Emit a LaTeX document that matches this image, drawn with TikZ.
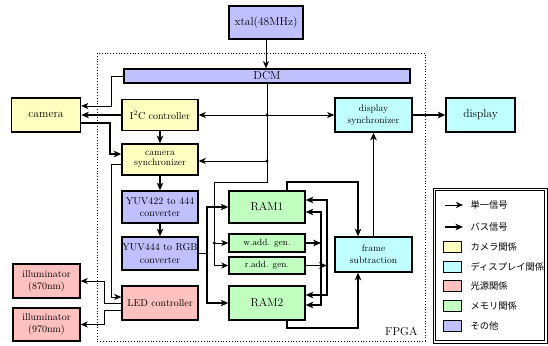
\documentclass[tikz,border=0pt]{standalone}
\usepackage{fontspec}
\newfontfamily\jafont{Noto Sans CJK JP}
\usetikzlibrary{arrows.meta, positioning, calc}
\definecolor{camcol}{HTML}{FFFFC0}
\definecolor{dispcol}{HTML}{C0FFFF}
\definecolor{litecol}{HTML}{FFC0C0}
\definecolor{memcol}{HTML}{C0FFC0}
\definecolor{othcol}{HTML}{C0C0FF}

\begin{document}
\begin{tikzpicture}[
  x=1pt, y=-1pt,
  blk/.style={draw, line width=1.5pt, inner sep=0pt, align=center,
    font=\fontsize{10}{12.3}\selectfont},
  big/.style={font=\fontsize{11.5}{13}\selectfont},
  sig/.style={-{Stealth[length=7pt, width=6pt, inset=2pt]}, line width=0.7pt},
  bus/.style={-{Stealth[length=7.5pt, width=6.5pt, inset=2pt]}, line width=1.6pt},
  dot/.style={circle, fill, inner sep=0pt, minimum size=3.2pt},
  swatch/.style={draw, line width=1pt, minimum width=18pt, minimum height=11pt, inner sep=0pt},
  jtext/.style={anchor=west, font=\jafont\fontsize{9.3}{10}\selectfont},
]
\useasboundingbox (0,0) rectangle (548,345);

% =================== FPGA frame ===================
\draw[dotted, line width=0.8pt] (97,53) rectangle (425,341);
\node[big, anchor=south east] (fpga) at (421,339) {FPGA};

% =================== blocks ===================
\node[blk, big, fill=othcol, minimum width=74pt, minimum height=33pt] (xtal) at (266,22.5) {xtal(48MHz)};
\node[blk, big, fill=othcol, minimum width=286pt, minimum height=14pt] (dcm) at (267,76) {DCM};

\node[blk, big, fill=camcol, minimum width=69pt, minimum height=34pt] (camera) at (46,115) {camera};
\node[blk, fill=camcol, minimum width=76pt, minimum height=31pt] (i2c) at (160,115) {I\textsuperscript{2}C controller};
\node[blk, fill=camcol, minimum width=76pt, minimum height=31pt,
  font=\fontsize{9.5}{10}\selectfont] (camsync) at (160,159.5) {camera\\synchronizer};

\node[blk, fill=dispcol, minimum width=77pt, minimum height=34pt,
  font=\fontsize{9.5}{12.3}\selectfont] (dispsync) at (373.5,115) {display\\synchronizer};
\node[blk, big, fill=dispcol, minimum width=69pt, minimum height=34pt] (display) at (480.5,115) {display};

\node[blk, fill=othcol, minimum width=76pt, minimum height=32pt] (yuv1) at (160,207) {YUV422 to 444\\converter};
\node[blk, fill=othcol, minimum width=76pt, minimum height=33pt] (yuv2) at (160,253.5) {YUV444 to RGB\\converter};
\node[blk, fill=litecol, minimum width=76pt, minimum height=34pt] (led) at (160,303) {LED controller};

\node[blk, fill=litecol, minimum width=67pt, minimum height=34pt] (ill1) at (46.5,281) {illuminator\\(870nm)};
\node[blk, fill=litecol, minimum width=67pt, minimum height=33pt] (ill2) at (46.5,324.5) {illuminator\\(970nm)};

\node[blk, big, fill=memcol, minimum width=76pt, minimum height=32pt] (ram1) at (267,207) {RAM1};
\node[blk, fill=memcol, minimum width=76pt, minimum height=18pt,
  font=\fontsize{9}{10}\selectfont] (wadd) at (267,243) {w.add. gen.};
\node[blk, fill=memcol, minimum width=76pt, minimum height=17pt,
  font=\fontsize{9}{10}\selectfont] (radd) at (267,265.5) {r.add. gen.};
\node[blk, big, fill=memcol, minimum width=76pt, minimum height=34pt] (ram2) at (267,303) {RAM2};

\node[blk, fill=dispcol, minimum width=77pt, minimum height=35pt,
  font=\fontsize{9.5}{12.3}\selectfont] (fsub) at (373.5,254.5) {frame\\subtraction};

% =================== clock lines ===================
\draw[sig] (xtal.south) -- (xtal.south |- dcm.north);
\draw[sig] (dcm.west) -- ++(-12,0) |- ([yshift=9pt]camera.east);

\coordinate (c1) at (dcm.south |- i2c.east);
\coordinate (c2) at ([yshift=-1.5pt]camsync.east);
\draw[sig] (c1) -- (i2c.east);
\draw[sig] (c1) -- (dispsync.west);
\draw[sig] (dcm.south |- c2) -- (c2);
\draw[sig] (dcm.south) -- ++(0,99) -| ([xshift=-14pt]radd.west) -- (radd.west);
\draw[sig] ([xshift=-14pt]wadd.west) -- (wadd.west);
\node[dot] (d1) at (c1) {};
\node[dot] (d2) at (dcm.south |- c2) {};
\node[dot] (d3) at ([xshift=-14pt]wadd.west) {};

% =================== camera side ===================
\draw[bus] (i2c.west) -- (camera.east);
\draw[bus] ([yshift=-8pt]camera.east) -- ++(29,0) |- ([yshift=5.5pt]camsync.west);
\draw[bus] (i2c) -- (camsync);
\draw[bus] (camsync) -- (yuv1);
\draw[bus] (yuv1) -- (yuv2);

% LED controller
\draw[sig] ([yshift=-5pt]camsync.west) -- ++(-10,0) |- ([yshift=6pt]led.west);
\draw[sig] (led.west) -- ++(-17,0) |- (ill1.east);
\draw[sig] ([yshift=-7pt]led.west) -- ++(-17,0) |- (ill2.east);

% =================== memory ===================
\coordinate (sp) at ([xshift=8pt]yuv2.east);
\draw[bus] (yuv2.east) -- (sp) |- (ram1.west);
\draw[bus] (sp) |- (ram2.west);
\node[dot] (d4) at (sp) {};

\draw[bus] (wadd.east) -- ++(15,0) coordinate (wj);
\draw[bus] (wj) |- ([yshift=-5pt]ram1.east);
\draw[bus] (wj) |- ([yshift=-2pt]ram2.east);
\draw[bus] (radd.east) -- ++(21,0) coordinate (rj);
\draw[bus] (rj) |- ([yshift=7pt]ram1.east);
\draw[bus] (rj) |- ([yshift=8pt]ram2.east);
\node[dot] (d5) at (wj) {};
\node[dot] (d6) at (rj) {};

\draw[bus] ([xshift=20pt]ram1.north) -- ++(0,-8) -| ([xshift=-15.5pt]fsub.north);
\draw[bus] ([xshift=20pt]ram2.south) -- ++(0,7) -| ([xshift=-15.5pt]fsub.south);
\draw[bus] (fsub) -- (dispsync);
\draw[bus] (dispsync) -- (display);

% =================== legend ===================
\draw[line width=0.6pt] (433,188) rectangle (547,343);
\draw[line width=0.9pt] (435.5,190.5) rectangle (544.5,340.5);
\coordinate (la1) at (445,205);
\coordinate (la2) at (463,205);
\coordinate (lb1) at (445,227);
\coordinate (lb2) at (463,227);
\draw[sig] (la1) -- (la2);
\draw[bus] (lb1) -- (lb2);
\node[jtext] (ls) at (467,205) {単一信号};
\node[jtext] (lb) at (467,227) {バス信号};
\foreach \col/\txt [count=\i] in {camcol/カメラ関係, dispcol/ディスプレイ関係,
    litecol/光源関係, memcol/メモリ関係, othcol/その他} {
  \node[swatch, fill=\col] (sw\i) at (452,227+19.8*\i) {};
  \node[jtext] (lt\i) at (467,227+19.8*\i) {\txt};
}
\end{tikzpicture}
\end{document}
